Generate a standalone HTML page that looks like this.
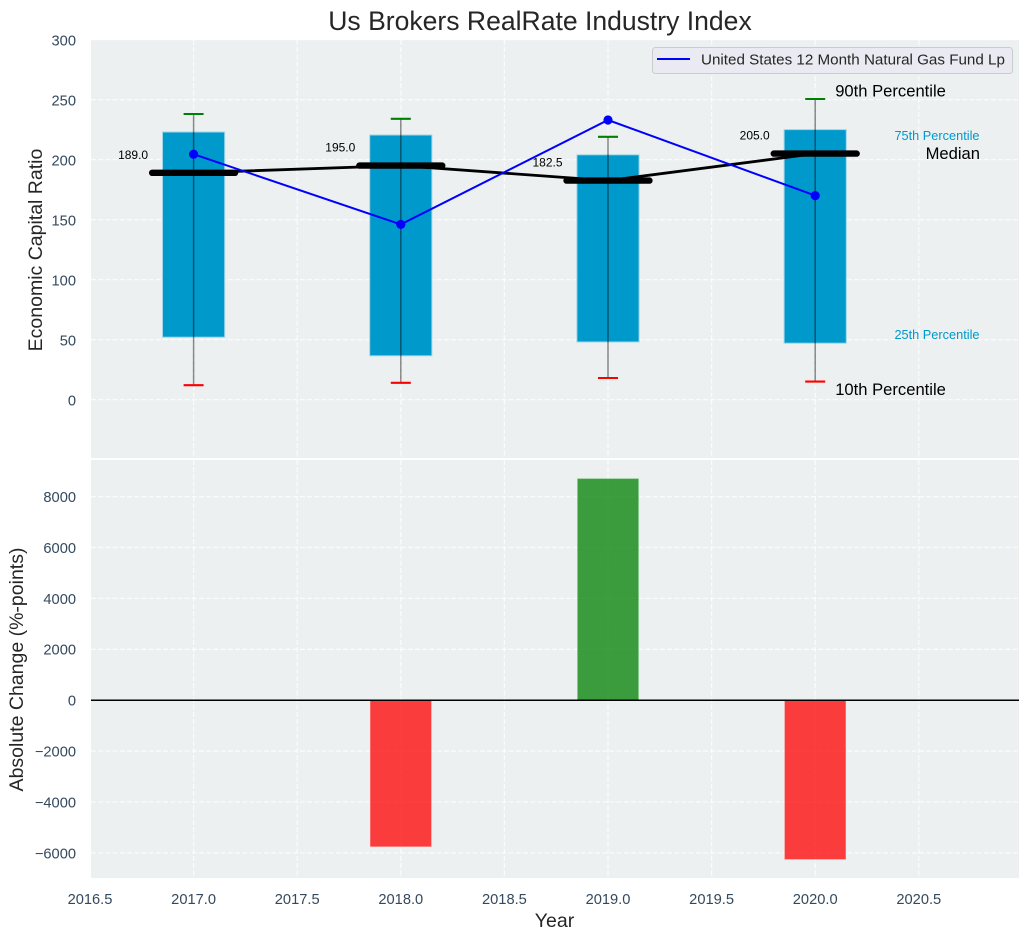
<!DOCTYPE html>
<html lang="en">
<head>
<meta charset="utf-8">
<title>Us Brokers RealRate Industry Index</title>
<style>
html,body{margin:0;padding:0;background:#fff;width:1029px;height:940px;overflow:hidden}
svg{display:block;font-family:"Liberation Sans",Arial,sans-serif}
</style>
</head>
<body>
<svg id="chart" xmlns="http://www.w3.org/2000/svg" width="1029" height="940" viewBox="0 0 1029 940"></svg>
<script>
const years = [2017, 2018, 2019, 2020];
const p90 = [238, 234, 219, 250.5];
const p75 = [223, 220.5, 204, 225];
const medians = [189, 195, 182.5, 205];
const p25 = [52, 36.5, 48, 47];
const p10 = [12, 14, 18, 15];
const fund = [204.5, 146, 233, 170];
const changes = [0, -5750, 8700, -6250];
const medianLabels = ['189.0', '195.0', '182.5', '205.0'];
const xTicks = [2016.5, 2017, 2017.5, 2018, 2018.5, 2019, 2019.5, 2020, 2020.5];
const xTickLabels = ['2016.5', '2017.0', '2017.5', '2018.0', '2018.5', '2019.0', '2019.5', '2020.0', '2020.5'];
const topTicks = [0, 50, 100, 150, 200, 250, 300];
const topTickLabels = ['0', '50', '100', '150', '200', '250', '300'];
const bottomTicks = [-6000, -4000, -2000, 0, 2000, 4000, 6000, 8000];
const bottomTickLabels = ['\u22126000', '\u22124000', '\u22122000', '0', '2000', '4000', '6000', '8000'];
const legendLabel = 'United States 12 Month Natural Gas Fund Lp';

const svg = document.getElementById('chart');
const NS = 'http://www.w3.org/2000/svg';
const left = 91, right = 1019, topA = 40, topB = 458, botA = 460, botB = 878;
const x = v => 193.6 + (v - 2017) * 207.2;
const yTop = v => 399.6 - v * 1.2;
const yBot = v => 700.2 - v * 0.02545;

function make(tag, attrs, text) {
  const el = document.createElementNS(NS, tag);
  for (const k in attrs) el.setAttribute(k, attrs[k]);
  if (text !== undefined) el.textContent = text;
  svg.appendChild(el);
  return el;
}
function gridAttrs(x1, y1, x2, y2) {
  return {x1, y1, x2, y2, stroke: '#ffffff', 'stroke-width': 1.3, 'stroke-dasharray': '5 2.2', 'stroke-opacity': 0.75};
}

let el;
el = make('rect', {x: 0, y: 0, width: 1029, height: 940, fill: '#ffffff'});



el = make('rect', {x: left, y: topA, width: right - left, height: topB - topA, fill: '#ecf0f1'});



el = make('rect', {x: left, y: botA, width: right - left, height: botB - botA, fill: '#ecf0f1'});



xTicks.forEach((t, i) => {
  if (x(t) >= left) {
    let g = make('line', gridAttrs(x(t), topA, x(t), topB));
    
    
    g = make('line', gridAttrs(x(t), botA, x(t), botB));
    
    
  }
  const lab = make('text', {x: x(t), y: 904, 'text-anchor': 'middle', 'font-size': 14.67, fill: '#34495e'}, xTickLabels[i]);
  
  
});

topTicks.forEach((t, i) => {
  const g = make('line', gridAttrs(left, yTop(t), right, yTop(t)));
  
  
  const lab = make('text', {x: 76, y: yTop(t) + 6, 'text-anchor': 'end', 'font-size': 14.67, fill: '#34495e'}, topTickLabels[i]);
  
  
});

bottomTicks.forEach((t, i) => {
  const g = make('line', gridAttrs(left, yBot(t), right, yBot(t)));
  
  
  const lab = make('text', {x: 76, y: yBot(t) + 5.4, 'text-anchor': 'end', 'font-size': 14.67, fill: '#34495e'}, bottomTickLabels[i]);
  
  
});

years.forEach((yr, i) => {
  const bar = make('rect', {
    x: x(yr - 0.15), y: yTop(p75[i]), width: x(yr + 0.15) - x(yr - 0.15), height: yTop(p25[i]) - yTop(p75[i]),
    fill: '#0099cc', stroke: '#9fd6e8', 'stroke-width': 1
  });
  
  

  const whisker = make('line', {x1: x(yr), y1: yTop(p10[i]), x2: x(yr), y2: yTop(p90[i]), stroke: '#000000', 'stroke-opacity': 0.45, 'stroke-width': 1.5});
  
  

  const capHi = make('line', {x1: x(yr) - 10, y1: yTop(p90[i]), x2: x(yr) + 10, y2: yTop(p90[i]), stroke: '#008000', 'stroke-width': 2.1});
  
  

  const capLo = make('line', {x1: x(yr) - 10, y1: yTop(p10[i]), x2: x(yr) + 10, y2: yTop(p10[i]), stroke: '#ff0000', 'stroke-width': 2.1});
  
  
});

const medianLine = make('polyline', {
  points: years.map((yr, i) => x(yr) + ',' + yTop(medians[i])).join(' '),
  fill: 'none', stroke: '#000000', 'stroke-width': 2.8, 'stroke-linejoin': 'round'
});



years.forEach((yr, i) => {
  const seg = make('line', {
    x1: x(yr - 0.2), y1: yTop(medians[i]), x2: x(yr + 0.2), y2: yTop(medians[i]),
    stroke: '#000000', 'stroke-width': 6.4, 'stroke-linecap': 'round'
  });
  
  

  const lab = make('text', {
    x: x(yr) - 45.5, y: yTop(medians[i]) - 14, 'text-anchor': 'end', 'font-size': 12, fill: '#000000'
  }, medianLabels[i]);
  
  
});

const fundLine = make('polyline', {
  points: years.map((yr, i) => x(yr) + ',' + yTop(fund[i])).join(' '),
  fill: 'none', stroke: '#0000ff', 'stroke-width': 2
});



years.forEach((yr, i) => {
  const dot = make('circle', {cx: x(yr), cy: yTop(fund[i]), r: 4.6, fill: '#0000ff'});
  
  
});

const last = years.length - 1;
const lastX = x(years[last]);

el = make('text', {x: lastX + 20, y: yTop(p90[last]) - 2.5, 'font-size': 16.6, fill: '#000000'}, '90th Percentile');



el = make('text', {x: 979.5, y: yTop(p75[last]) + 10.5, 'text-anchor': 'end', 'font-size': 12.75, fill: '#0099cc'}, '75th Percentile');



el = make('text', {x: 980, y: yTop(medians[last]) + 5.5, 'text-anchor': 'end', 'font-size': 16.6, fill: '#000000'}, 'Median');



el = make('text', {x: 979.5, y: yTop(p25[last]) - 4, 'text-anchor': 'end', 'font-size': 12.75, fill: '#0099cc'}, '25th Percentile');



el = make('text', {x: lastX + 20, y: yTop(p10[last]) + 13.5, 'font-size': 16.6, fill: '#000000'}, '10th Percentile');



el = make('rect', {x: 652.5, y: 47.5, width: 360, height: 26, rx: 3, ry: 3, fill: '#eaeaf2', 'fill-opacity': 0.85, stroke: '#cccccc', 'stroke-width': 1});



el = make('line', {x1: 657, y1: 59, x2: 690, y2: 59, stroke: '#0000ff', 'stroke-width': 2});



el = make('text', {x: 701, y: 64.5, 'font-size': 15.2, fill: '#262626'}, legendLabel);



years.forEach((yr, i) => {
  if (changes[i] === 0) return;
  const v = changes[i];
  const bar = make('rect', {
    x: x(yr - 0.147), y: Math.min(yBot(v), yBot(0)),
    width: x(yr + 0.147) - x(yr - 0.147), height: Math.abs(yBot(v) - yBot(0)),
    fill: v > 0 ? '#008000' : '#ff0000', 'fill-opacity': 0.75,
    stroke: v > 0 ? '#6fbf6f' : '#ff7a7a', 'stroke-width': 0.6
  });
  
  
});

el = make('line', {x1: left, y1: yBot(0), x2: right, y2: yBot(0), stroke: '#000000', 'stroke-width': 1.5});



el = make('text', {x: 540, y: 30, 'text-anchor': 'middle', 'font-size': 26.55, fill: '#262626'}, 'Us Brokers RealRate Industry Index');



el = make('text', {x: 554.5, y: 927, 'text-anchor': 'middle', 'font-size': 19.5, fill: '#262626'}, 'Year');



el = make('text', {transform: 'translate(42,250) rotate(-90)', 'text-anchor': 'middle', 'font-size': 19.5, fill: '#262626'}, 'Economic Capital Ratio');



el = make('text', {transform: 'translate(23,669.5) rotate(-90)', 'text-anchor': 'middle', 'font-size': 19.5, fill: '#262626'}, 'Absolute Change (%-points)');


</script>
</body>
</html>
